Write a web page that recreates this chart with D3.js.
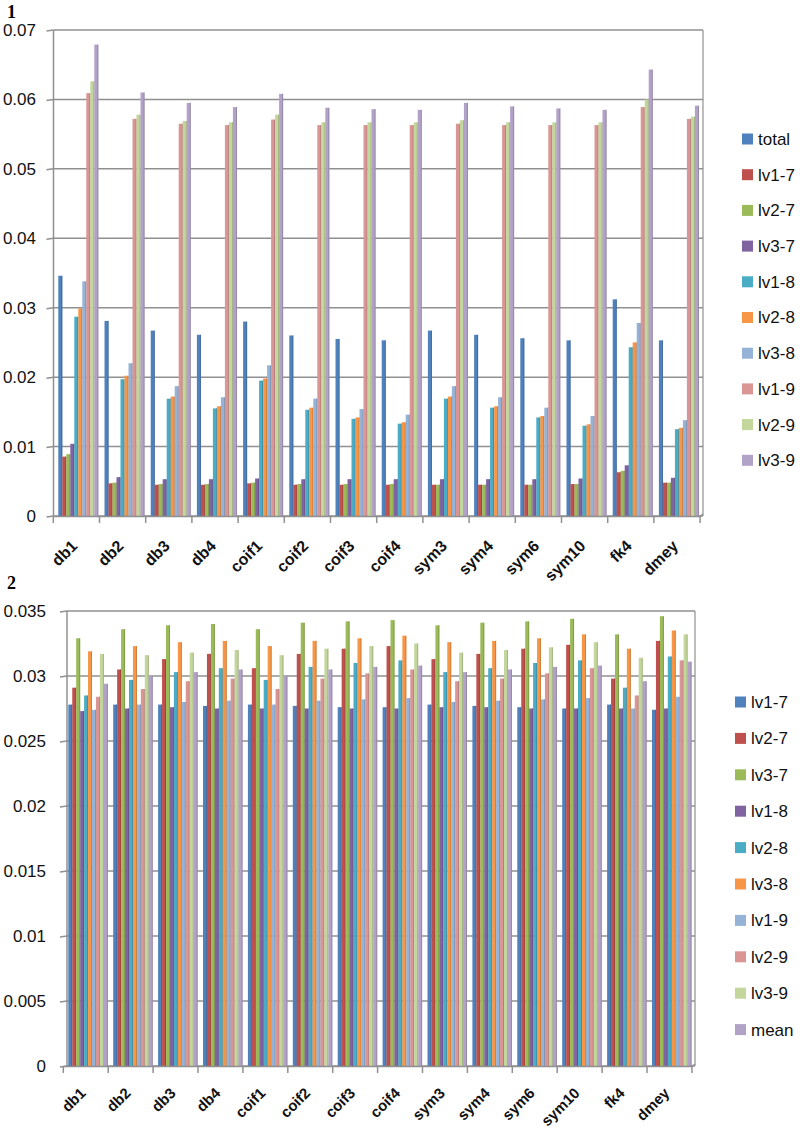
<!DOCTYPE html>
<html>
<head>
<meta charset="utf-8">
<script src="https://cdn.jsdelivr.net/npm/d3@7/dist/d3.min.js"></script>
<style>
  html, body { margin: 0; padding: 0; background: #fff; }
  svg { display: block; }
</style>
</head>
<body>
<svg id="chart" width="800" height="1130"></svg>
<script>
// ---------- DATA ----------
const categories = ["db1","db2","db3","db4","coif1","coif2","coif3","coif4","sym3","sym4","sym6","sym10","fk4","dmey"];

const palette = ["#4F81BD","#C0504D","#9BBB59","#8064A2","#4BACC6","#F79646","#95B3D7","#D99694","#C3D69B","#B3A2C7"];

// Chart 1
const series1 = ["total","lv1-7","lv2-7","lv3-7","lv1-8","lv2-8","lv3-8","lv1-9","lv2-9","lv3-9"];
const c1_total = [0.0346,0.0281,0.0267,0.0261,0.0280,0.0260,0.0255,0.0253,0.0267,0.0261,0.0256,0.0253,0.0312,0.0253];
const c1_lv1_7 = [0.00855,0.0047,0.0045,0.0045,0.0047,0.0045,0.0045,0.0045,0.0045,0.0045,0.0045,0.0046,0.0063,0.0048];
const c1_lv2_7 = [0.0089,0.0048,0.0046,0.0046,0.0048,0.0046,0.0046,0.0046,0.0045,0.0045,0.0045,0.0046,0.0065,0.0048];
const c1_lv3_7 = [0.0104,0.0056,0.0053,0.0053,0.0054,0.0053,0.0053,0.0053,0.0053,0.0053,0.0053,0.0054,0.0073,0.0055];
const c1_lv1_8 = [0.0287,0.0197,0.0169,0.0155,0.0195,0.0153,0.0140,0.0133,0.0169,0.0156,0.0142,0.0130,0.0243,0.0125];
const c1_lv2_8 = [0.0299,0.0202,0.0172,0.0158,0.0198,0.0156,0.0142,0.0135,0.0172,0.0158,0.0144,0.0132,0.0250,0.0127];
const c1_lv3_8 = [0.0338,0.0220,0.0187,0.0171,0.0217,0.0169,0.0154,0.0146,0.0187,0.0171,0.0156,0.0144,0.0278,0.0138];
const c1_lv1_9 = [0.0609,0.0572,0.0565,0.0563,0.0571,0.0563,0.0563,0.0563,0.0565,0.0563,0.0563,0.0563,0.0589,0.0572];
const c1_lv2_9 = [0.0626,0.0578,0.0569,0.0567,0.0578,0.0567,0.0567,0.0567,0.0570,0.0567,0.0567,0.0567,0.0600,0.0575];
const c1_lv3_9 = [0.0679,0.0610,0.0595,0.0589,0.0608,0.0588,0.0586,0.0585,0.0595,0.0590,0.0587,0.0585,0.0643,0.0591];
const values1 = [c1_total,c1_lv1_7,c1_lv2_7,c1_lv3_7,c1_lv1_8,c1_lv2_8,c1_lv3_8,c1_lv1_9,c1_lv2_9,c1_lv3_9];
const ticks1 = [0,0.01,0.02,0.03,0.04,0.05,0.06,0.07];

// Chart 2
const series2 = ["lv1-7","lv2-7","lv3-7","lv1-8","lv2-8","lv3-8","lv1-9","lv2-9","lv3-9","mean"];
const c2_lv1_7 = [0.0278,0.0278,0.0278,0.0277,0.0278,0.0277,0.0276,0.0276,0.0278,0.0277,0.0276,0.0275,0.0278,0.0274];
const c2_lv2_7 = [0.0291,0.0305,0.0313,0.0317,0.0306,0.0317,0.0321,0.0323,0.0313,0.0317,0.0321,0.0324,0.0298,0.0327];
const c2_lv3_7 = [0.0329,0.0336,0.0339,0.0340,0.0336,0.0341,0.0342,0.0343,0.0339,0.0341,0.0342,0.0344,0.0332,0.0346];
const c2_lv1_8 = [0.0273,0.0275,0.0276,0.0275,0.0275,0.0275,0.0275,0.0275,0.0276,0.0276,0.0275,0.0275,0.0275,0.0275];
const c2_lv2_8 = [0.0285,0.0297,0.0303,0.0306,0.0297,0.0307,0.0310,0.0312,0.0303,0.0306,0.0310,0.0312,0.0291,0.0315];
const c2_lv3_8 = [0.0319,0.0323,0.0326,0.0327,0.0323,0.0327,0.0329,0.0331,0.0326,0.0327,0.0329,0.0332,0.0321,0.0335];
const c2_lv1_9 = [0.0274,0.0278,0.0280,0.0281,0.0278,0.0281,0.0282,0.0283,0.0280,0.0281,0.0282,0.0283,0.0275,0.0284];
const c2_lv2_9 = [0.0284,0.0290,0.0296,0.0298,0.0290,0.0298,0.0302,0.0305,0.0296,0.0298,0.0302,0.0306,0.0285,0.0312];
const c2_lv3_9 = [0.0317,0.0316,0.0318,0.0320,0.0316,0.0321,0.0323,0.0325,0.0318,0.0320,0.0322,0.0326,0.0314,0.0332];
const c2_mean  = [0.0294,0.0300,0.0303,0.0305,0.0300,0.0305,0.0307,0.0308,0.0303,0.0305,0.0307,0.0308,0.0296,0.0311];
const values2 = [c2_lv1_7,c2_lv2_7,c2_lv3_7,c2_lv1_8,c2_lv2_8,c2_lv3_8,c2_lv1_9,c2_lv2_9,c2_lv3_9,c2_mean];
const ticks2 = [0,0.005,0.01,0.015,0.02,0.025,0.03,0.035];

// ---------- DRAW ----------
const svg = d3.select("#chart");
const FONT = "'Liberation Sans', Arial, sans-serif";
const GRID = "#909090";

function drawChart(cfg) {
  const g = svg.append("g");
  const y = d3.scaleLinear().domain([0, cfg.ymax]).range([cfg.y0, cfg.yTop]);
  const x = d3.scaleBand().domain(categories).range([cfg.floorL, cfg.floorR]).padding(0);
  const bw = x.bandwidth();
  const inner = d3.scaleBand().domain(cfg.series).range([5, 5 + cfg.series.length * cfg.barW]).padding(0);

  // title
  g.append("text").attr("x", cfg.titleX).attr("y", cfg.titleY)
    .attr("font-family", "'Liberation Serif', 'Times New Roman', serif")
    .attr("font-weight", "bold").attr("font-size", 18).text(cfg.title);

  // y axis labels
  const yAxis = d3.axisLeft(y).tickValues(cfg.ticks).tickSize(0).tickFormat(d => d === 0 ? "0" : String(+d.toFixed(3)));
  const ya = g.append("g").attr("transform", `translate(${cfg.labelX},0)`).call(yAxis);
  ya.select(".domain").remove();
  ya.selectAll("text").attr("font-family", FONT).attr("font-size", 17).attr("fill", "#111").attr("x", 0);

  // gridlines
  g.selectAll(".grid").data(cfg.ticks).join("line")
    .attr("x1", cfg.wallL).attr("x2", cfg.wallR)
    .attr("y1", d => y(d)).attr("y2", d => y(d))
    .attr("stroke", GRID).attr("stroke-width", 1.5);
  g.selectAll(".ytick").data(cfg.ticks).join("line")
    .attr("x1", cfg.wallL - 7).attr("x2", cfg.wallL)
    .attr("y1", d => y(d) + 1).attr("y2", d => y(d))
    .attr("stroke", GRID).attr("stroke-width", 1.5);
  g.append("line").attr("x1", cfg.wallL).attr("x2", cfg.wallL)
    .attr("y1", y(cfg.ymax)).attr("y2", y(0)).attr("stroke", GRID).attr("stroke-width", 1.5);
  g.append("line").attr("x1", cfg.wallR).attr("x2", cfg.wallR)
    .attr("y1", y(cfg.ymax)).attr("y2", y(0)).attr("stroke", GRID).attr("stroke-width", 1.2);

  // bars
  cfg.series.forEach((s, si) => {
    const col = palette[si];
    const dark = d3.color(col).darker(0.7).formatHex();
    const grp = g.append("g");
    grp.selectAll("rect.b").data(cfg.values[si]).join("rect")
      .attr("x", (d, i) => x(categories[i]) + inner(s))
      .attr("y", d => y(d))
      .attr("width", inner.bandwidth())
      .attr("height", d => y(0) - y(d))
      .attr("fill", col);
    grp.selectAll("rect.e").data(cfg.values[si]).join("rect")
      .attr("x", (d, i) => x(categories[i]) + inner(s) + inner.bandwidth() - 0.9)
      .attr("y", d => y(d))
      .attr("width", 0.9)
      .attr("height", d => y(0) - y(d))
      .attr("fill", dark).attr("opacity", 0.8);
  });

  // floor / x axis
  const xAxis = d3.axisBottom(x).tickSize(0).tickFormat("");
  const xa = g.append("g").attr("transform", `translate(0,${cfg.y0})`).call(xAxis);
  xa.select(".domain").attr("stroke", GRID).attr("stroke-width", 1.5);
  const bounds = d3.range(categories.length + 1).map(i => cfg.floorL + i * bw);
  g.selectAll(".xtick").data(bounds).join("line")
    .attr("x1", d => d).attr("x2", d => d)
    .attr("y1", cfg.y0).attr("y2", cfg.y0 + 7)
    .attr("stroke", GRID).attr("stroke-width", 1.5);
  g.append("line").attr("x1", cfg.floorR).attr("x2", cfg.wallR)
    .attr("y1", cfg.y0).attr("y2", cfg.y0 - 2).attr("stroke", GRID).attr("stroke-width", 1.2);

  // x labels
  g.selectAll(".xl").data(categories).join("text")
    .attr("transform", d => `translate(${x(d) + bw / 2 + cfg.lblDx},${cfg.y0 + cfg.lblDy}) rotate(-45)`)
    .attr("text-anchor", "end")
    .attr("font-family", FONT).attr("font-size", cfg.lblSize).attr("font-weight", "bold").attr("fill", "#111")
    .text(d => d);

  // legend
  const lg = g.append("g");
  cfg.series.forEach((s, si) => {
    const cy = cfg.legY + si * cfg.legStep;
    lg.append("rect").attr("x", cfg.legX).attr("y", cy - 5.5).attr("width", 11).attr("height", 11).attr("fill", palette[si]);
    lg.append("text").attr("x", cfg.legX + 16).attr("y", cy).attr("dy", "0.35em")
      .attr("font-family", FONT).attr("font-size", 17).attr("fill", "#111").text(s);
  });
}

drawChart({
  title: "1", titleX: 7, titleY: 18,
  series: series1, values: values1, ticks: ticks1, ymax: 0.07,
  y0: 516, yTop: 30, floorL: 53.3, floorR: 53.3 + 14 * 46.2, wallL: 53.5, wallR: 703,
  barW: 4, labelX: 36, lblDx: 2, lblDy: 31, lblSize: 16,
  legX: 742, legY: 139, legStep: 35.7
});

drawChart({
  title: "2", titleX: 7, titleY: 589,
  series: series2, values: values2, ticks: ticks2, ymax: 0.035,
  y0: 1066, yTop: 611, floorL: 63.3, floorR: 63.3 + 14 * 44.9, wallL: 67, wallR: 695,
  barW: 3.95, labelX: 46, lblDx: 1, lblDy: 28, lblSize: 15,
  legX: 735, legY: 702, legStep: 36.4
});
</script>
</body>
</html>
